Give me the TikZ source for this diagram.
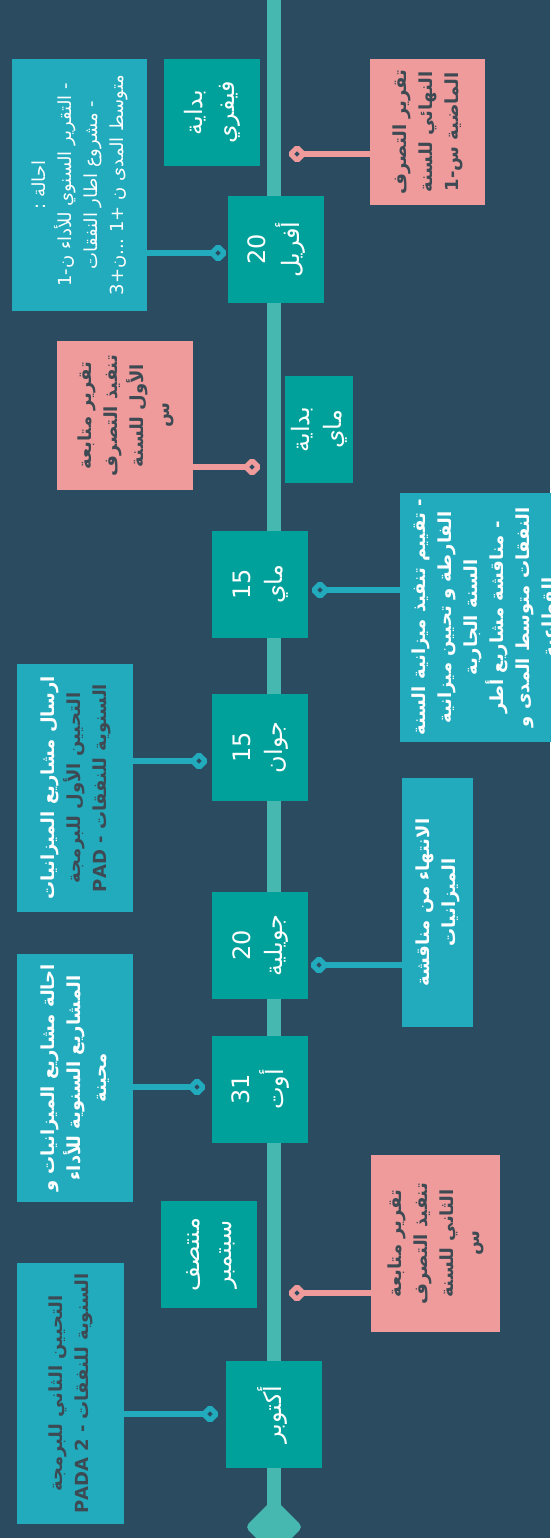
\documentclass[tikz,border=0pt]{standalone}
\usepackage{fontspec}
\usepackage{graphicx}
\usetikzlibrary{shapes.geometric}
\setmainfont{DejaVu Sans}
\newfontfamily\arabicfont[Script=Arabic]{DejaVu Sans}
\TeXXeTstate=1

\definecolor{bgslate}{HTML}{2A4B60}
\definecolor{spinecol}{HTML}{47B8B0}
\definecolor{datecol}{HTML}{00A19A}
\definecolor{bluecol}{HTML}{21ABBD}
\definecolor{pinkcol}{HTML}{EF9B9B}
\definecolor{darktxt}{HTML}{3E4A53}

\newcommand{\ar}[1]{\beginR #1\endR}
\newcommand{\datetxt}[1]{\rotatebox{90}{\fontsize{24}{32}\selectfont\arabicfont
  \begin{tabular}{@{}c@{}}#1\end{tabular}}}
\newcommand{\evttxt}[2][\bfseries]{\rotatebox{90}{\fontsize{18}{26}\selectfont\arabicfont#1%
  \begin{tabular}{@{}c@{}}#2\end{tabular}}}

\tikzset{
  datebox/.style={fill=datecol, text=white, inner sep=0pt, minimum width=96pt, minimum height=107pt},
  bluebox/.style={fill=bluecol, text=white, inner sep=0pt},
  pinkbox/.style={fill=pinkcol, text=darktxt, inner sep=0pt},
  bluejoint/.style={diamond, draw=bluecol, line width=5pt, fill=bgslate, inner sep=0pt,
    minimum size=15pt, rounded corners=1.5pt},
  pinkjoint/.style={bluejoint, draw=pinkcol},
  bluelink/.style={draw=bluecol, line width=6pt},
  pinklink/.style={draw=pinkcol, line width=6pt},
  spine/.style={draw=spinecol, line width=14pt}
}

\begin{document}
\begin{tikzpicture}[x=1pt,y=-1pt]
	
	\fill[bgslate] (0,0) rectangle (550,1538);
	\useasboundingbox (0,0) rectangle (550,1538);
	
	% time axis
	\coordinate (top) at (274,0);
	\node[diamond, fill=spinecol, inner sep=0pt, minimum size=58pt, rounded corners=5pt] (foot) at (274,1527) {};
	\path[spine] (top) -- (foot.center);
	
	% dates
	\node[datebox] (feb) at (212,112.5) {\datetxt{بداية\\فيفري}};
	\node[datebox] (apr20) at (276,249.5) {\datetxt{20\\أفريل}};
	\node[datebox, minimum width=68pt] (maystart) at (319,429.5) {\datetxt{بداية\\ماي}};
	\node[datebox] (may15) at (260,584.5) {\datetxt{15\\ماي}};
	\node[datebox] (jun15) at (260,747.5) {\datetxt{15\\جوان}};
	\node[datebox] (jul20) at (260,945.5) {\datetxt{20\\جويلية}};
	\node[datebox] (aug31) at (260,1089.5) {\datetxt{31\\أوت}};
	\node[datebox] (midsep) at (209,1254.5) {\datetxt{منتصف\\سبتمبر}};
	\node[datebox] (oct) at (274,1414.5) {\datetxt{أكتوبر}};
	
	% events
	\node[bluebox, minimum width=135pt, minimum height=252pt] (referral) at (79.5,185)
		{\evttxt[\mdseries]{\ar{احالة :}\\\ar{- التقرير السنوي للأداء ن-1}\\\ar{- مشروع اطار النفقات}\\\ar{متوسط المدى ن +1 ...ن+3}}};
	\node[pinkbox, minimum width=115pt, minimum height=146pt] (finalrep) at (427.5,132)
		{\evttxt{\ar{تقرير التصرف}\\\ar{النهائي للسنة}\\\ar{الماضية س-1}}};
	\node[pinkbox, minimum width=136pt, minimum height=149pt] (follow1) at (125,415.5)
		{\evttxt{\ar{تقرير متابعة}\\\ar{تنفيذ التصرف}\\\ar{الأول للسنة}\\\ar{س}}};
	\node[bluebox, minimum width=170pt, minimum height=249pt] (review) at (485,617.5)
		{\evttxt{\ar{- تقييم تنفيذ ميزانية السنة}\\\ar{الفارطة و تحيين ميزانية}\\\ar{السنة الجارية}\\\ar{- مناقشة مشاريع أطر}\\\ar{النفقات متوسط المدى و}\\\ar{القطاعية}}};
	\node[bluebox, minimum width=116pt, minimum height=248pt] (sendpad) at (75,788)
		{\evttxt{\ar{ارسال مشاريع الميزانيات}\\\color{darktxt}\ar{التحيين الأول للبرمجة}\\\color{darktxt}\ar{السنوية للنفقات - \beginL PAD\endL}}};
	\node[bluebox, minimum width=71pt, minimum height=249pt] (debate) at (437.5,902.5)
		{\evttxt{\ar{الانتهاء من مناقشة}\\\ar{الميزانيات}}};
	\node[bluebox, minimum width=116pt, minimum height=248pt] (transfer) at (75,1078)
		{\evttxt{\ar{احالة مشاريع الميزانيات و}\\\ar{المشاريع السنوية للأداء}\\\ar{محينة}}};
	\node[pinkbox, minimum width=129pt, minimum height=177pt] (follow2) at (435.5,1243.5)
		{\evttxt{\ar{تقرير متابعة}\\\ar{تنفيذ التصرف}\\\ar{الثاني للسنة}\\\ar{س}}};
	\node[bluebox, text=darktxt, minimum width=107pt, minimum height=261pt] (pada) at (70.5,1393.5)
		{\evttxt{\ar{التحيين الثاني للبرمجة}\\\ar{السنوية للنفقات - \beginL PADA 2\endL}}};
	
	% links
	\path[bluelink] (referral.east |- 0,253) -- (218,253) coordinate (j1);
	\path[pinklink] (finalrep.west |- 0,154) -- (297,154) coordinate (j2);
	\path[pinklink] (follow1.east |- 0,467) -- (252,467) coordinate (j3);
	\path[bluelink] (review.west |- 0,590) -- (320,590) coordinate (j4);
	\path[bluelink] (sendpad.east |- 0,761) -- (199,761) coordinate (j5);
	\path[bluelink] (debate.west |- 0,965) -- (319,965) coordinate (j6);
	\path[bluelink] (transfer.east |- 0,1087) -- (197,1087) coordinate (j7);
	\path[pinklink] (follow2.west |- 0,1293) -- (297,1293) coordinate (j8);
	\path[bluelink] (pada.east |- 0,1414) -- (210,1414) coordinate (j9);
	
	\node[bluejoint] at (j1) {};
	\node[pinkjoint] at (j2) {};
	\node[pinkjoint] at (j3) {};
	\node[bluejoint] at (j4) {};
	\node[bluejoint] at (j5) {};
	\node[bluejoint] at (j6) {};
	\node[bluejoint] at (j7) {};
	\node[pinkjoint] at (j8) {};
	\node[bluejoint] at (j9) {};
	
\end{tikzpicture}
\end{document}
